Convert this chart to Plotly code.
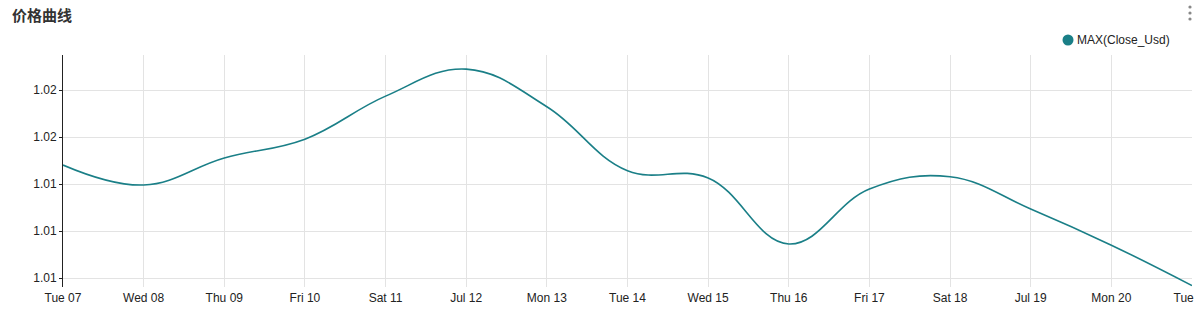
import plotly.graph_objects as go

dates = ["2020-07-07", "2020-07-08", "2020-07-09", "2020-07-10", "2020-07-11",
         "2020-07-12", "2020-07-13", "2020-07-14", "2020-07-15", "2020-07-16",
         "2020-07-17", "2020-07-18", "2020-07-19", "2020-07-20", "2020-07-21"]
close_max = [1.01481, 1.01396, 1.01511, 1.01591, 1.01774,
             1.01889, 1.01729, 1.01457, 1.01426, 1.01145,
             1.01379, 1.01431, 1.01294, 1.01140, 1.00968]
tick_labels = ["Tue 07", "Wed 08", "Thu 09", "Fri 10", "Sat 11", "Jul 12", "Mon 13",
               "Tue 14", "Wed 15", "Thu 16", "Fri 17", "Sat 18", "Jul 19", "Mon 20", "Tue 21"]
series_name = "MAX(Close_Usd)"
title_text = "价格曲线"

color = "#1a7f87"
font_family = "Liberation Sans, Arial, sans-serif"

PW, PH = 1196 - 63 - 4, 328 - 55 - 41  # plot area size in px

fig = go.Figure()
fig.add_trace(go.Scatter(
    x=dates, y=close_max, mode="lines", name=series_name,
    line=dict(color=color, width=1.6, shape="spline", smoothing=1.15),
    showlegend=False, hoverinfo="x+y"))

fig.update_layout(
    width=1196, height=328,
    margin=dict(l=63, r=4, t=55, b=41, autoexpand=False),
    paper_bgcolor="white", plot_bgcolor="white",
    font=dict(family=font_family, size=12, color="#222"),
    showlegend=False,
    annotations=[
        dict(text="<b>" + title_text + "</b>", xref="paper", yref="paper",
             x=(10 - 63) / PW, xanchor="left", y=1 + (55 - 14) / PH, yanchor="middle",
             showarrow=False,
             font=dict(size=15, color="#333",
                       family="Noto Sans CJK SC, sans-serif")),
        dict(text=series_name,
             xref="paper", yref="paper",
             x=(1075 - 63) / PW, xanchor="left", y=1 + (55 - 40) / PH, yanchor="middle",
             showarrow=False,
             font=dict(size=12, color="#222", family=font_family)),
    ],
)

# legend marker (circle)
fig.add_shape(type="circle", xref="paper", yref="paper",
              x0=(1068 - 5.5 - 63) / PW, x1=(1068 + 5.5 - 63) / PW,
              y0=1 + (55 - 40 - 5.5) / PH, y1=1 + (55 - 40 + 5.5) / PH,
              fillcolor=color, line=dict(width=0))

# kebab menu dots
for yy in [7, 13, 19]:
    yp = 1 + (55 - yy) / PH
    fig.add_shape(type="circle", xref="paper", yref="paper",
                  x0=(1190 - 1.6 - 63) / PW, x1=(1190 + 1.6 - 63) / PW,
                  y0=yp - 1.6 / PH, y1=yp + 1.6 / PH,
                  fillcolor="#888", line=dict(width=0))

fig.update_xaxes(
    type="date", range=[dates[0], dates[-1]],
    tickvals=dates, ticktext=tick_labels,
    showgrid=True, gridcolor="#e3e3e3", gridwidth=1,
    ticks="outside", ticklen=0, tickcolor="#e3e3e3",
    showline=False, zeroline=False, tickangle=0,
    ticklabeloverflow="allow",
    tickfont=dict(size=12, color="#222"))
fig.update_yaxes(
    range=[1.00962, 1.01949],
    tick0=1.010, dtick=0.002, tickformat=".2f",
    showgrid=True, gridcolor="#e3e3e3", gridwidth=1,
    showline=True, linecolor="#222", linewidth=1,
    ticks="outside", ticklen=3, tickcolor="#222",
    zeroline=False, tickfont=dict(size=12, color="#222"))

fig.write_html("out.html")
